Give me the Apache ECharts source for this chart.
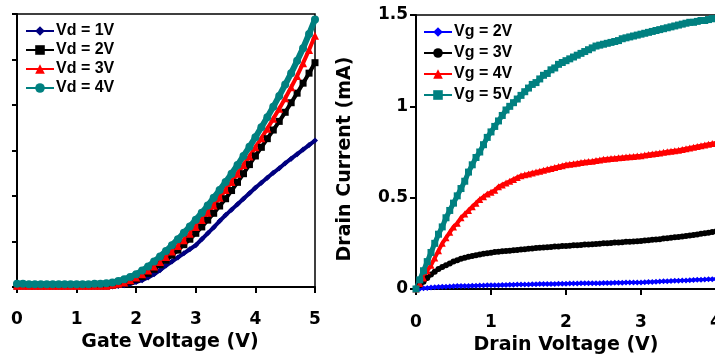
<!DOCTYPE html>
<html>
<head>
<meta charset="utf-8">
<script src="https://cdn.jsdelivr.net/npm/echarts@6/dist/echarts.min.js"></script>
<style>
  html, body { margin: 0; padding: 0; background: #fff; }
  #chart { width: 715px; height: 363px; }
</style>
</head>
<body>
<div id="chart"></div>
<script>
// gate sweep (left panel), V
const gateV = [0,0.1,0.2,0.3,0.4,0.5,0.6,0.7,0.8,0.9,
  1,1.1,1.2,1.3,1.4,1.5,1.6,1.7,1.8,1.9,
  2,2.1,2.2,2.3,2.4,2.5,2.6,2.7,2.8,2.9,
  3,3.1,3.2,3.3,3.4,3.5,3.6,3.7,3.8,3.9,
  4,4.1,4.2,4.3,4.4,4.5,4.6,4.7,4.8,4.9,
  5];

// transfer curves, arbitrary units (axis labels cropped in the source)
const vd1 = [0.01,0.01,0.01,0.01,0.01,0.01,0.01,0.01,0.01,0.01,
  0.01,0.01,0.01,0.01,0.01,0.01,0.01,0.02,0.04,0.07,
  0.11,0.15,0.21,0.28,0.37,0.47,0.56,0.65,0.74,0.83,
  0.92,1.05,1.18,1.31,1.45,1.58,1.70,1.82,1.94,2.06,
  2.18,2.29,2.40,2.51,2.61,2.72,2.82,2.92,3.02,3.12,
  3.22];
const vd2 = [0.02,0.02,0.02,0.02,0.02,0.02,0.02,0.02,0.02,0.02,
  0.02,0.02,0.02,0.02,0.02,0.02,0.04,0.06,0.08,0.12,
  0.17,0.23,0.30,0.39,0.49,0.59,0.70,0.81,0.93,1.05,
  1.18,1.32,1.47,1.62,1.78,1.94,2.12,2.30,2.49,2.69,
  2.88,3.07,3.26,3.45,3.64,3.84,4.05,4.26,4.48,4.70,
  4.93];
const vd3 = [0.03,0.03,0.03,0.03,0.03,0.03,0.03,0.03,0.03,0.03,
  0.03,0.03,0.03,0.03,0.03,0.03,0.05,0.07,0.10,0.15,
  0.21,0.28,0.36,0.45,0.55,0.66,0.78,0.90,1.03,1.17,
  1.32,1.47,1.63,1.79,1.96,2.13,2.31,2.49,2.68,2.87,
  3.07,3.27,3.48,3.70,3.92,4.15,4.39,4.64,4.92,5.21,
  5.52];
const vd4 = [0.07,0.07,0.06,0.06,0.06,0.06,0.06,0.06,0.06,0.06,
  0.06,0.06,0.06,0.07,0.07,0.08,0.10,0.13,0.17,0.22,
  0.28,0.36,0.45,0.56,0.67,0.79,0.92,1.05,1.19,1.33,
  1.48,1.63,1.79,1.96,2.13,2.31,2.49,2.68,2.88,3.08,
  3.29,3.51,3.73,3.96,4.20,4.45,4.70,4.97,5.25,5.56,
  5.88];

// drain sweep (right panel), V
const drainV = [0,0.05,0.1,0.15,0.2,0.25,0.3,0.35,0.4,0.45,
  0.5,0.55,0.6,0.65,0.7,0.75,0.8,0.85,0.9,0.95,
  1,1.05,1.1,1.15,1.2,1.25,1.3,1.35,1.4,1.45,
  1.5,1.55,1.6,1.65,1.7,1.75,1.8,1.85,1.9,1.95,
  2,2.05,2.1,2.15,2.2,2.25,2.3,2.35,2.4,2.45,
  2.5,2.55,2.6,2.65,2.7,2.75,2.8,2.85,2.9,2.95,
  3,3.05,3.1,3.15,3.2,3.25,3.3,3.35,3.4,3.45,
  3.5,3.55,3.6,3.65,3.7,3.75,3.8,3.85,3.9,3.95,
  4];

// output curves, mA
const vg2 = [0,0.002,0.004,0.006,0.008,0.01,0.011,0.012,0.013,0.014,
  0.015,0.016,0.016,0.017,0.017,0.018,0.018,0.019,0.019,0.02,
  0.02,0.021,0.021,0.022,0.022,0.023,0.023,0.024,0.024,0.025,
  0.025,0.026,0.026,0.027,0.027,0.028,0.028,0.028,0.029,0.029,
  0.029,0.03,0.03,0.03,0.031,0.031,0.031,0.032,0.032,0.032,
  0.033,0.033,0.033,0.034,0.034,0.034,0.035,0.035,0.035,0.036,
  0.036,0.037,0.038,0.039,0.04,0.041,0.042,0.043,0.044,0.045,
  0.045,0.046,0.047,0.048,0.049,0.05,0.051,0.052,0.053,0.054,
  0.055];
const vg3 = [0,0.02,0.04,0.06,0.08,0.095,0.11,0.12,0.13,0.14,
  0.15,0.158,0.165,0.171,0.176,0.181,0.185,0.189,0.193,0.196,
  0.199,0.202,0.204,0.206,0.208,0.21,0.212,0.214,0.216,0.218,
  0.22,0.222,0.224,0.226,0.227,0.229,0.23,0.232,0.233,0.235,
  0.236,0.237,0.239,0.24,0.241,0.243,0.244,0.245,0.247,0.248,
  0.25,0.251,0.252,0.254,0.255,0.256,0.258,0.259,0.26,0.262,
  0.263,0.265,0.267,0.269,0.271,0.273,0.276,0.278,0.28,0.283,
  0.285,0.288,0.29,0.293,0.296,0.299,0.302,0.305,0.308,0.312,
  0.315];
const vg4 = [0,0.03,0.06,0.10,0.13,0.17,0.21,0.25,0.28,0.31,
  0.34,0.36,0.39,0.41,0.43,0.45,0.47,0.49,0.505,0.52,
  0.53,0.54,0.56,0.57,0.58,0.59,0.60,0.61,0.62,0.625,
  0.63,0.635,0.64,0.645,0.65,0.655,0.66,0.665,0.67,0.675,
  0.68,0.683,0.686,0.689,0.692,0.695,0.698,0.70,0.703,0.706,
  0.71,0.712,0.714,0.716,0.718,0.72,0.722,0.724,0.726,0.728,
  0.73,0.733,0.736,0.739,0.742,0.745,0.748,0.751,0.754,0.757,
  0.76,0.764,0.768,0.772,0.776,0.78,0.784,0.788,0.792,0.796,
  0.80];
const vg5 = [0,0.05,0.10,0.15,0.20,0.25,0.30,0.34,0.39,0.43,
  0.47,0.51,0.55,0.59,0.64,0.68,0.72,0.75,0.79,0.83,
  0.86,0.89,0.92,0.95,0.98,1.00,1.02,1.04,1.06,1.08,
  1.10,1.12,1.13,1.15,1.17,1.18,1.20,1.21,1.23,1.24,
  1.25,1.26,1.27,1.28,1.29,1.30,1.31,1.32,1.33,1.335,
  1.34,1.345,1.35,1.355,1.36,1.37,1.375,1.38,1.385,1.39,
  1.395,1.40,1.405,1.41,1.415,1.42,1.425,1.43,1.435,1.44,
  1.445,1.45,1.455,1.46,1.46,1.465,1.47,1.47,1.475,1.48,
  1.48];

const leftNames = ['Vd = 1V', 'Vd = 2V', 'Vd = 3V', 'Vd = 4V'];
const rightNames = ['Vg = 2V', 'Vg = 3V', 'Vg = 4V', 'Vg = 5V'];

const AXIS_FONT = "'DejaVu Sans', sans-serif";
const LEGEND_FONT = "'Liberation Sans', Arial, sans-serif";

const pairs = (xs, ys) => xs.map((x, i) => [x, ys[i]]);

const axisBase = {
  axisLine: { onZero: false, lineStyle: { color: '#000', width: 2 } },
  axisTick: { inside: false, length: 6, lineStyle: { color: '#000', width: 2 } },
  splitLine: { show: false },
  axisLabel: { color: '#000', fontFamily: AXIS_FONT, fontWeight: 'bold', fontSize: 17 },
  nameTextStyle: { color: '#000', fontFamily: AXIS_FONT, fontWeight: 'bold', fontSize: 19 },
};

const mkSeries = (name, data, idx, color, symbol, size, lw) => ({
  name, type: 'line', data,
  xAxisIndex: idx, yAxisIndex: idx,
  symbol, symbolSize: size,
  showSymbol: true,
  lineStyle: { color, width: lw },
  itemStyle: { color, borderWidth: 0 },
  emphasis: { disabled: true },
  clip: false,
});

const legendBase = {
  orient: 'vertical',
  itemWidth: 28,
  itemHeight: 12,
  textStyle: { color: '#000', fontFamily: LEGEND_FONT, fontWeight: 'bold', fontSize: 16, padding: [0, 0, 0, -3] },
  selectedMode: false,
  padding: 0,
};

const chart = echarts.init(document.getElementById('chart'), null, { renderer: 'canvas' });

chart.setOption({
  animation: false,
  backgroundColor: '#fff',
  grid: [
    { left: 17, top: 14, width: 298, height: 273, show: true, borderColor: '#000', borderWidth: 1.5, outerBoundsMode: 'none' },
    { left: 416, top: 15, width: 300, height: 274, show: true, borderColor: '#000', borderWidth: 1.5, outerBoundsMode: 'none' },
  ],
  xAxis: [
    Object.assign({}, axisBase, {
      type: 'value', gridIndex: 0, min: 0, max: 5, interval: 1,
      name: 'Gate Voltage (V)', nameLocation: 'middle', nameGap: 42,
      nameTextStyle: Object.assign({}, axisBase.nameTextStyle, { padding: [0, 0, 0, 8] }),
      axisLabel: Object.assign({}, axisBase.axisLabel, { margin: 24 }),
    }),
    Object.assign({}, axisBase, {
      type: 'value', gridIndex: 1, min: 0, max: 4, interval: 1,
      name: 'Drain Voltage (V)', nameLocation: 'middle', nameGap: 45,
      axisLabel: Object.assign({}, axisBase.axisLabel, { margin: 25 }),
    }),
  ],
  yAxis: [
    Object.assign({}, axisBase, {
      type: 'value', gridIndex: 0, min: 0, max: 6, interval: 1,
      axisTick: { length: 5, lineStyle: { color: '#000', width: 2 } },
      axisLabel: { show: false },
    }),
    Object.assign({}, axisBase, {
      type: 'value', gridIndex: 1, min: 0, max: 1.5, interval: 0.5,
      axisTick: { length: 6, lineStyle: { color: '#000', width: 2 } },
      name: 'Drain Current (mA)', nameLocation: 'middle', nameGap: 61,
      nameTextStyle: Object.assign({}, axisBase.nameTextStyle, { padding: [0, 14, 0, 0] }),
      axisLabel: Object.assign({}, axisBase.axisLabel, { margin: 8 }),
    }),
  ],
  legend: [
    Object.assign({}, legendBase, { left: 25, top: 23, itemGap: 3, data: leftNames }),
    Object.assign({}, legendBase, { left: 423, top: 24, itemGap: 5, data: rightNames }),
  ],
  series: [
    mkSeries(leftNames[0], pairs(gateV, vd1), 0, '#000080', 'diamond', 6, 4),
    mkSeries(leftNames[1], pairs(gateV, vd2), 0, '#000000', 'rect', 7, 4),
    mkSeries(leftNames[2], pairs(gateV, vd3), 0, '#ff0000', 'triangle', 8, 4),
    mkSeries(leftNames[3], pairs(gateV, vd4), 0, '#008080', 'circle', 8, 6),
    mkSeries(rightNames[0], pairs(drainV, vg2), 1, '#0000ff', 'diamond', 6, 3),
    mkSeries(rightNames[1], pairs(drainV, vg3), 1, '#000000', 'circle', 6, 4),
    mkSeries(rightNames[2], pairs(drainV, vg4), 1, '#ff0000', 'triangle', 7, 4),
    mkSeries(rightNames[3], pairs(drainV, vg5), 1, '#008080', 'rect', 7, 5),
  ],
});
</script>
</body>
</html>
